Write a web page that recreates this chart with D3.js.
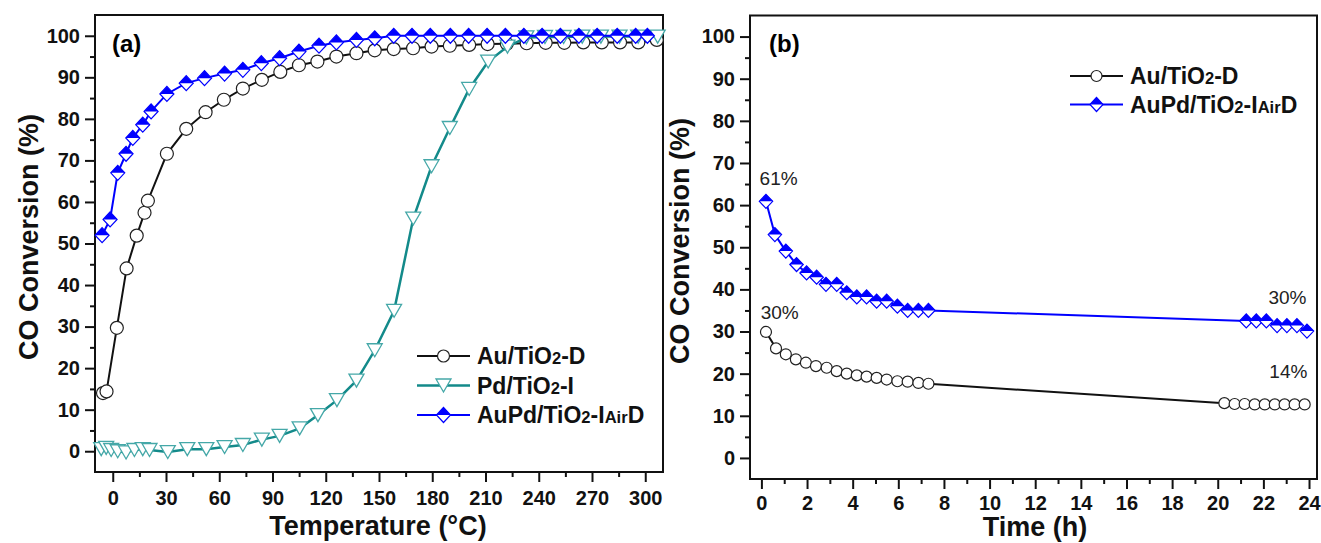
<html>
  <head>
    <meta charset="utf-8"/>
    <style>
      body { margin: 0; background: white; }
      svg { font-family: "Liberation Sans", Arial, sans-serif; }
      .tick text { font-size: 20px; font-weight: bold; fill: #111; }
      .tick line { stroke: #111; stroke-width: 2; }
    </style>
    <script src="https://d3js.org/d3.v7.min.js"></script>
  </head>
  <body>
    <script>
    // (a) light-off curves
    var tempAu = [-5.5, -3.5, 2.3, 7.8, 13.5, 17.9, 19.8, 30.5, 41.4, 52.3, 62.6, 73.3, 84, 94.4, 104.9, 115.3, 126, 137.3, 147.6,
                  158.3, 169.2, 179.6, 189.9, 200.8, 211.2, 222, 233.2, 243.9, 254.4, 265.1, 275.5, 285.8, 296.1, 306.5];
    var convAu = [14.0, 14.4, 29.7, 44, 51.9, 57.4, 60.3, 71.6, 77.6, 81.6, 84.6, 87.3, 89.4, 91.3, 92.9, 93.8, 95, 95.8, 96.5,
                  96.8, 97.0, 97.4, 97.6, 97.8, 98.0, 98.1, 98.2, 98.3, 98.3, 98.4, 98.4, 98.4, 98.4, 99.0];
    var tempPd = [-6.5, -3.7, -0.9, 2.8, 7.5, 12.2, 16.9, 20.7, 31, 42, 52.7, 63, 73.3, 84, 94, 105.3, 115.6, 126.3, 137.3, 147.6,
                  158.5, 169.3, 179.6, 189.9, 200.8, 211.5, 222.4, 233, 243.5, 254, 264.5, 275, 285.5, 296, 307];
    var convPd = [0.5, 0.8, 0.3, 0, -0.3, 0.3, 0.5, 0.3, -0.2, 0.5, 0.5, 1.0, 1.5, 2.8, 3.7, 5.5, 8.7, 12.3, 17, 24.3,
                  33.8, 56, 68.6, 77.8, 87.2, 93.8, 97.4, 99.6, 99.7, 99.7, 99.8, 99.8, 99.8, 99.8, 99.8];
    var tempAuPd = [-6, -1.5, 2.8, 7.5, 11.3, 16.9, 21.6, 30.5, 41.4, 51.7, 63, 73.3, 83.7, 94, 104.9, 116.2, 126, 137.3, 147.6,
                    158.3, 168.6, 178.9, 190.2, 200.5, 210.9, 221.2, 231.6, 241.9, 252.2, 262.6, 272.9, 284.2, 294.6, 301.2];
    var convAuPd = [52, 55.8, 67, 71.6, 75.4, 78.6, 81.8, 86, 88.6, 89.8, 90.9, 91.8, 93.4, 94.6, 96.2, 97.6, 98.4, 99, 99.4,
                    100, 100, 100, 100, 100, 100, 100, 100, 100, 100, 100, 100, 100, 100, 100];

    // (b) stability at fixed temperature
    var timeAu = [0.2, 0.64, 1.07, 1.51, 1.95, 2.39, 2.86, 3.3, 3.74, 4.18, 4.61, 5.05, 5.49, 5.96, 6.41, 6.88, 7.32,
                  20.29, 20.74, 21.18, 21.62, 22.06, 22.5, 22.93, 23.37, 23.81];
    var stabAu = [29.9, 26, 24.6, 23.4, 22.6, 21.8, 21.4, 20.6, 20, 19.6, 19.3, 19, 18.6, 18.2, 18.1, 17.8, 17.6,
                  13, 12.8, 12.8, 12.7, 12.7, 12.7, 12.7, 12.7, 12.7];
    var timeAuPd = [0.2, 0.59, 1.07, 1.54, 1.98, 2.42, 2.83, 3.3, 3.74, 4.18, 4.61, 5.05, 5.49, 5.96, 6.41, 6.88, 7.32,
                    21.25, 21.69, 22.13, 22.6, 23.03, 23.47, 23.91];
    var stabAuPd = [60.9, 53, 49.1, 45.9, 43.9, 42.9, 41.2, 41.2, 39.2, 38.2, 38.2, 37.2, 37.2, 36, 35, 35, 35,
                    32.5, 32.5, 32.5, 31.4, 31.4, 31.4, 30.1];
    var notes = [["61%", -0.08, 64.8], ["30%", -0.03, 32.9], ["30%", 22.22, 36.5], ["14%", 22.26, 18.9]];

    var tempTicks = [0, 30, 60, 90, 120, 150, 180, 210, 240, 270, 300];
    var timeTicks = [0, 2, 4, 6, 8, 10, 12, 14, 16, 18, 20, 22, 24];
    var convTicks = [0, 10, 20, 30, 40, 50, 60, 70, 80, 90, 100];

    var BLACK = "#111", TEAL = "#138a8a", TEAL_M = "#45a8a8", BLUE = "#0000ff";

    var svg = d3.select("body").append("svg").attr("width", 1321).attr("height", 543);

    var xA = d3.scaleLinear().domain([-10, 310]).range([95, 663]);
    var yA = d3.scaleLinear().domain([-5, 105]).range([472, 15]);
    var xB = d3.scaleLinear().domain([-0.5, 24.35]).range([750, 1317]);
    var yB = d3.scaleLinear().domain([-5, 105]).range([479, 15.5]);

    function mid(t) { return d3.pairs(t, (a, b) => (a + b) / 2); }

    function axes(x, y, xt, yt, pad) {
      var b = y.range()[0], l = x.range()[0];
      var bottom = svg.append("g").attr("transform", "translate(0," + b + ")");
      bottom.append("g").call(d3.axisBottom(x).tickValues(mid(xt)).tickSize(5).tickFormat(""));
      bottom.append("g").call(d3.axisBottom(x).tickValues(xt).tickSize(10).tickPadding(pad));
      var left = svg.append("g").attr("transform", "translate(" + l + ",0)");
      left.append("g").call(d3.axisLeft(y).tickValues(mid(yt)).tickSize(5).tickFormat(""));
      left.append("g").call(d3.axisLeft(y).tickValues(yt).tickSize(10).tickPadding(5));
      svg.selectAll(".domain").remove();
      svg.append("rect")
        .attr("x", l).attr("y", y.range()[1])
        .attr("width", x.range()[1] - l).attr("height", b - y.range()[1])
        .attr("fill", "none").attr("stroke", BLACK).attr("stroke-width", 2);
    }

    // markers
    function circleMark(g, r) {
      g.append("circle").attr("r", r).attr("fill", "white").attr("stroke", "#222").attr("stroke-width", 1.2);
    }
    function triMark(g, w, h) {
      g.append("path").attr("d", "M" + -w + "," + -h + "L" + w + "," + -h + "L0," + h + "Z")
        .attr("fill", "white").attr("stroke", TEAL_M).attr("stroke-width", 1.3);
    }
    function diaMark(g, w, h) {
      g.append("path").attr("d", "M" + -w + ",0L0," + -h + "L" + w + ",0L0," + h + "Z")
        .attr("fill", "white").attr("stroke", BLUE).attr("stroke-width", 1.2);
      g.append("path").attr("d", "M" + -w + ",0L0," + -h + "L" + w + ",0Z").attr("fill", BLUE);
    }

    function series(x, y, xs, ys, color, lw, mark) {
      var pts = d3.zip(xs, ys);
      svg.append("path").datum(pts)
        .attr("d", d3.line().x(d => x(d[0])).y(d => y(d[1])))
        .attr("fill", "none").attr("stroke", color).attr("stroke-width", lw);
      svg.append("g").selectAll("g").data(pts).join("g")
        .attr("transform", d => "translate(" + x(d[0]) + "," + y(d[1]) + ")")
        .each(function() { mark(d3.select(this)); });
    }

    // label with subscript pieces: [text, isSub]
    function rich(t, parts) {
      parts.forEach(p => {
        t.append("tspan").text(p[0]).attr("font-size", p[1] ? "72%" : null);
      });
    }

    function legend(x0, y0, dy, items) {
      items.forEach((it, i) => {
        var g = svg.append("g").attr("transform", "translate(" + x0 + "," + (y0 + i * dy) + ")");
        g.append("line").attr("x1", 0).attr("x2", 53).attr("stroke", it.color).attr("stroke-width", it.lw);
        it.mark(g.append("g").attr("transform", "translate(26.5,0)"));
        var t = g.append("text").attr("x", 60).attr("y", 8)
          .attr("font-size", 23).attr("font-weight", "bold").attr("fill", BLACK);
        rich(t, it.label);
      });
    }

    function title(x, y, rot, txt) {
      svg.append("text")
        .attr("transform", "translate(" + x + "," + y + ")" + (rot ? " rotate(-90)" : ""))
        .attr("text-anchor", "middle").attr("font-size", 27).attr("font-weight", "bold")
        .attr("fill", BLACK).text(txt);
    }

    var labAu = [["Au/TiO", 0], ["2", 1], ["-D", 0]];
    var labPd = [["Pd/TiO", 0], ["2", 1], ["-I", 0]];
    var labAuPd = [["AuPd/TiO", 0], ["2", 1], ["-I", 0], ["Air", 1], ["D", 0]];

    // ---- panel (a)
    axes(xA, yA, tempTicks, convTicks, 9);
    series(xA, yA, tempAu, convAu, BLACK, 2, g => circleMark(g, 6.5));
    series(xA, yA, tempPd, convPd, TEAL, 2.5, g => triMark(g, 7.5, 6.5));
    series(xA, yA, tempAuPd, convAuPd, BLUE, 2, g => diaMark(g, 7, 7.5));
    legend(417, 356, 29.5, [
      { label: labAu, color: BLACK, lw: 2, mark: g => circleMark(g, 6) },
      { label: labPd, color: TEAL, lw: 2.5, mark: g => triMark(g, 7.5, 6.5) },
      { label: labAuPd, color: BLUE, lw: 2, mark: g => diaMark(g, 7, 7.5) }
    ]);
    svg.append("text").attr("x", 112).attr("y", 52).attr("font-size", 24).attr("font-weight", "bold").text("(a)");
    title(38, 237, true, "CO Conversion (%)");
    title(378, 535, false, "Temperature (°C)");

    // ---- panel (b)
    axes(xB, yB, timeTicks, convTicks, 7);
    series(xB, yB, timeAu, stabAu, BLACK, 2, g => circleMark(g, 5.5));
    series(xB, yB, timeAuPd, stabAuPd, BLUE, 2, g => diaMark(g, 6.7, 7));
    legend(1070, 76, 28.5, [
      { label: labAu, color: BLACK, lw: 2, mark: g => circleMark(g, 5.5) },
      { label: labAuPd, color: BLUE, lw: 2, mark: g => diaMark(g, 6.5, 7) }
    ]);
    svg.append("g").selectAll("text").data(notes).join("text")
      .attr("x", d => xB(d[1])).attr("y", d => yB(d[2]))
      .attr("font-size", 19).attr("fill", "#222").text(d => d[0]);
    svg.append("text").attr("x", 769).attr("y", 52).attr("font-size", 24).attr("font-weight", "bold").text("(b)");
    title(689, 241, true, "CO Conversion (%)");
    title(1035, 536, false, "Time (h)");
    </script>
  </body>
</html>
